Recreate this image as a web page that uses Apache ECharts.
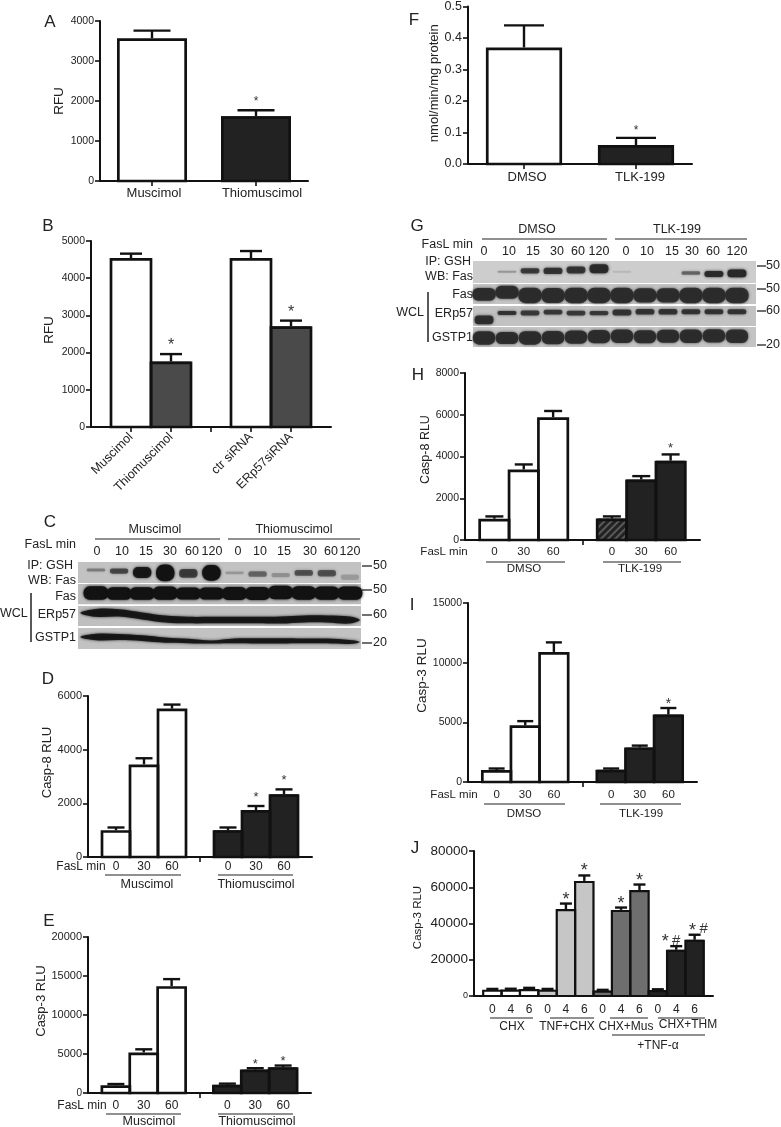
<!DOCTYPE html>
<html><head><meta charset="utf-8">
<style>html,body{margin:0;padding:0;background:#fff}#c{width:781px;height:1127px}</style>
<script src="https://cdn.jsdelivr.net/npm/echarts@6/dist/echarts.min.js"></script>
</head><body><div id="c"></div>
<script>
// ---------- Data ----------
const aCats=['Muscimol','Thiomuscimol'];
const aMeans=[3570,1620];
const aErrs=[3760,1770];
const aMarks=['','*'];

const bCats=['','Muscimol','Thiomuscimol','','ctr siRNA','ERp57siRNA',''];
const bMeans=[null,4540,1760,null,4540,2710,null];
const bErrs=[null,4660,1960,null,4730,2860,null];
const bMarks=['','','*','','','*',''];

const fasCats=['','0','30','60','','0','30','60',''];
const dMeans=[null,1000,3450,5530,null,1000,1750,2340,null];
const dErrs=[null,1100,3680,5680,null,1100,1900,2520,null];
const dMarks=['','','','','','','*','*',''];

const eMeans=[null,1000,5200,13700,null,1050,3000,3300,null];
const eErrs=[null,1150,5600,14600,null,1200,3180,3520,null];
const eMarks=['','','','','','','*','*',''];

const fCats=['DMSO','TLK-199'];
const fMeans=[0.37,0.06];
const fErrs=[0.44,0.083];
const fMarks=['','*'];

const hMeans=[null,1020,3380,5880,null,1030,2900,3800,null];
const hErrs=[null,1130,3620,6180,null,1130,3060,4100,null];
const hMarks=['','','','','','','','*',''];

const iMeans=[null,1000,4750,10900,null,1030,2900,5650,null];
const iErrs=[null,1130,5100,11700,null,1130,3050,6200,null];
const iMarks=['','','','','','','','*',''];

const jCats=['','0','4','6','0','4','6','0','4','6','0','4','6',''];
const jMeans=[null,3500,3600,3900,3500,48000,63500,3000,47500,58500,3300,25500,31000,null];
const jErrs=[null,3900,4000,4500,3900,51000,66500,3400,48800,61500,3700,27500,33800,null];
const jMarks=['','','','','','*','*','','*','*','','*','*',''];
const jHash=['','','','','','','','','','','','#','#',''];

// Blot band readings: one row per blot strip, one entry per lane
const cDark=[[.35,.6,.9,.97,.65,.97,.22,.45,.25,.55,.55,.2],
 [1,1,1,1,1,1,1,1,1,1,1,1],
 [.85,.85,.85,.85,.85,.85,.85,.85,.85,.85,.85,.85],
 [.85,.85,.85,.85,.85,.75,.85,.85,.85,.85,.85,.8]];
const cThick=[[.14,.24,.5,.78,.4,.72,.13,.26,.2,.26,.3,.25],
 [.62,.58,.58,.6,.55,.55,.6,.6,.62,.62,.6,.6],
 [.36,.34,.32,.32,.3,.3,.3,.3,.32,.32,.32,.32],
 [.3,.28,.26,.24,.2,.14,.22,.24,.24,.22,.22,.18]];
const cPos=[[.37,.42,.48,.5,.52,.5,.5,.55,.6,.5,.52,.7],
 [1.43,1.45,1.45,1.43,1.45,1.45,1.45,1.45,1.4,1.42,1.43,1.43],
 [2.34,2.34,2.48,2.62,2.67,2.67,2.67,2.67,2.67,2.62,2.62,2.67],
 [3.45,3.45,3.5,3.59,3.63,3.68,3.63,3.63,3.63,3.63,3.63,3.68]];
const gDark=[[0,.3,.8,.85,.85,.95,.12,0,0,.55,.95,1],
 [.9,.9,.9,.9,.9,.9,.9,.9,.9,.9,.9,.9],
 [.9,.85,.8,.8,.8,.8,.85,.85,.85,.85,.85,.85],
 [.9,.9,.9,.9,.9,.9,.9,.9,.9,.9,.9,.9]];
const gThick=[[0,.1,.24,.3,.32,.42,.1,0,0,.16,.28,.36],
 [.6,.6,.72,.7,.72,.72,.72,.66,.66,.72,.72,.72],
 [.4,.18,.24,.22,.22,.2,.28,.26,.26,.24,.24,.24],
 [.62,.56,.62,.62,.62,.62,.62,.6,.6,.62,.62,.62]];
const gPos=[[.5,.5,.46,.46,.42,.36,.5,.5,.5,.56,.6,.58],
 [1.55,1.45,1.6,1.6,1.6,1.6,1.6,1.6,1.6,1.6,1.6,1.6],
 [2.74,2.42,2.42,2.38,2.42,2.42,2.4,2.36,2.36,2.36,2.36,2.36],
 [3.58,3.58,3.58,3.56,3.54,3.52,3.5,3.52,3.5,3.5,3.48,3.5]];
const cLaneLabels=['0','10','15','30','60','120','0','10','15','30','60','120'];
const gLaneLabels=['0','10','15','30','60','120','0','10','15','30','60','120'];

// ---------- Builders ----------
const FONT='"Liberation Sans",Arial,sans-serif';
const grid=[],xAxis=[],yAxis=[],series=[],graphic=[];

function T(text,x,y,size,align,extra){
  graphic.push(Object.assign({type:'text',x:x,y:y,z:50,silent:true,
    style:{text:text,fontFamily:FONT,fontSize:size,fill:'#222',textAlign:align||'center',textVerticalAlign:'middle'}},extra||{}));
}
function L(x1,y1,x2,y2,w){
  graphic.push({type:'line',z:50,silent:true,shape:{x1:x1,y1:y1,x2:x2,y2:y2},style:{stroke:'#222',lineWidth:w||1.2}});
}

function addPanel(p){
  const i=grid.length;
  grid.push({left:p.x0,top:p.yTop,width:p.x1-p.x0,height:p.y0-p.yTop});
  const rich={};
  (p.nudge||[]).forEach((s,k)=>{rich['n'+k]={fontFamily:FONT,fontSize:p.xSize,color:'#222',padding:[0,0,0,2*s]};});
  xAxis.push({gridIndex:i,type:'category',data:p.cats,boundaryGap:!!p.gapTrue,
    axisLine:{show:true,lineStyle:{color:'#111',width:2}},
    axisTick:{show:!!p.ticks,length:5,alignWithLabel:true,lineStyle:{color:'#111',width:1.6},
      interval:p.ticks?((n)=>p.ticks.indexOf(n)>=0):0},
    axisLabel:{interval:0,hideOverlap:false,fontFamily:FONT,fontSize:p.xSize,color:'#222',margin:p.xMargin,rotate:p.rot||0,rich:rich,
      formatter:p.nudge?((v,n)=>'{n'+n+'|'+v+'}'):((v)=>v)},
    splitLine:{show:false}});
  const zr={z:{fontFamily:FONT,fontSize:p.zeroSize||p.ySize,color:'#222'}};
  yAxis.push({gridIndex:i,type:'value',min:0,max:p.yMax,interval:p.yStep,
    name:p.yName,nameLocation:'middle',nameGap:p.nameGap,nameRotate:90,
    nameTextStyle:{fontFamily:FONT,fontSize:p.nameSize,color:'#222',padding:[0,0,0,2*(p.nameUp||0)]},
    axisLine:{show:true,lineStyle:{color:'#111',width:2}},
    axisTick:{show:true,length:5,lineStyle:{color:'#111',width:1.6}},
    axisLabel:{fontFamily:FONT,fontSize:p.ySize,color:'#222',margin:p.yMargin||6,rich:zr,
      formatter:(v)=>(v===0&&p.zeroSize)?'{z|0}':(p.yFmt?p.yFmt(v):String(v))},
    splitLine:{show:false}});
  series.push({type:'bar',xAxisIndex:i,yAxisIndex:i,barWidth:p.barW,silent:true,z:3,
    data:p.means.map((v,k)=>v===null?'-':{value:v,itemStyle:Object.assign({color:p.fills[k]},
      (p.hatch&&p.hatch.indexOf(k)>=0)?{decal:{symbol:'rect',symbolSize:1,dashArrayX:[1,0],dashArrayY:[1.5,2.5],rotation:-Math.PI/4,color:'#5a5a5a'}}:{})})});
  const rows=[];p.errs.forEach((e,k)=>{if(e!==null)rows.push([k,e,p.means[k]]);});
  const bw=p.bw||2.7;
  series.push({type:'custom',xAxisIndex:i,yAxisIndex:i,silent:true,z:4,clip:false,data:rows,encode:{x:0,y:1},
    renderItem:(params,api)=>{
      const k=api.value(0),top=api.coord([k,api.value(1)]),base=api.coord([k,api.value(2)]),zero=api.coord([k,0]);
      const c=top[0],cap=p.capW/2,ls={stroke:'#111',lineWidth:p.ew||2.4};
      const kids=[
        {type:'rect',shape:{x:c-p.outW/2,y:base[1]+bw/2,width:p.outW,height:zero[1]-base[1]-bw/2},style:{fill:'none',stroke:'#111',lineWidth:bw}},
        {type:'line',shape:{x1:c,y1:top[1],x2:c,y2:base[1]},style:ls},
        {type:'line',shape:{x1:c-cap,y1:top[1],x2:c+cap,y2:top[1]},style:ls}];
      const m=p.marks[k];
      if(m)kids.push({type:'text',style:{text:m,x:c+((p.markDx||{})[k]||0),y:top[1]-p.markUp,fontFamily:FONT,fontSize:p.markSize,fill:'#333',textAlign:'center',textVerticalAlign:'top'}});
      if(p.hash&&p.hash[k])kids.push({type:'text',style:{text:p.hash[k],x:c+p.hashDx[k],y:top[1]-p.hashUp,fontFamily:FONT,fontSize:p.hashSize,fill:'#333',textAlign:'center',textVerticalAlign:'top'}});
      return {type:'group',children:kids};
    }});
}

function addBlot(b){
  const i=grid.length;
  grid.push({left:b.x0,top:b.y0,width:b.x1-b.x0,height:b.y1-b.y0});
  xAxis.push({gridIndex:i,type:'value',min:b.laneMin,max:b.laneMax,show:false});
  yAxis.push({gridIndex:i,type:'value',min:0,max:4,inverse:true,show:false});
  series.push({type:'custom',xAxisIndex:i,yAxisIndex:i,silent:true,z:1,clip:false,data:b.rows,encode:{x:0,y:1},
    renderItem:(params,api)=>{
      const a=api.coord([b.laneMin,api.value(0)]),c=api.coord([b.laneMax,api.value(1)]);
      return {type:'rect',shape:{x:a[0],y:a[1],width:c[0]-a[0],height:c[1]-a[1]},style:{fill:b.bg[params.dataIndex]}};
    }});
  const strips=b.strips||[];
  const bands=[];
  b.dark.forEach((row,r)=>{if(strips.indexOf(r)<0)row.forEach((d,l)=>{if(d>0)bands.push([l,b.pos[r][l],b.thick[r][l],d,b.wide[r]]);});});
  series.push({type:'custom',xAxisIndex:i,yAxisIndex:i,silent:true,z:2,clip:false,data:bands,encode:{x:0,y:1},
    renderItem:(params,api)=>{
      const ctr=api.coord([api.value(0),api.value(1)]),s=api.size([api.value(4),api.value(2)]);
      const col='rgba('+b.ink+','+api.value(3)+')';
      return {type:'rect',shape:{x:ctr[0]-s[0]/2,y:ctr[1]-s[1]/2,width:s[0],height:s[1],r:s[1]/2.2},
        style:{fill:col,shadowBlur:b.blur,shadowColor:col}};
    }});
  if(strips.length)series.push({type:'custom',xAxisIndex:i,yAxisIndex:i,silent:true,z:2,clip:false,data:strips.map(r=>[r,r]),encode:{x:0,y:1},
    renderItem:(params,api)=>{
      const r=api.value(0),P=b.pos[r],H=b.thick[r],up=[],dn=[];
      P.forEach((y,l)=>{up.push(api.coord([l,y-H[l]/2]));dn.unshift(api.coord([l,y+H[l]/2]));});
      const start=api.coord([b.laneMin+.1,P[0]]),end=api.coord([b.laneMax-.05,P[P.length-1]]);
      const col='rgba('+b.ink+',.9)';
      return {type:'polygon',shape:{points:[start].concat(up,[end],dn),smooth:.35},style:{fill:col,shadowBlur:b.blur,shadowColor:col}};
    }});
}

const W='#fff',K='#222',G='#4a4a4a';
// ---------- Panels ----------
addPanel({x0:100,x1:308,yTop:21,y0:181,yMax:4000,yStep:1000,cats:aCats,gapTrue:true,ticks:[0,1],means:aMeans,errs:aErrs,marks:aMarks,
  fills:[W,K],barW:70,outW:67.3,capW:37,xSize:13,xMargin:6,nudge:[2,6],ySize:10.5,yName:'RFU',nameGap:31,nameSize:13.5,markSize:12,markUp:15});
addPanel({x0:91,x1:331,yTop:241,y0:427,yMax:5000,yStep:1000,cats:bCats,ticks:[1,2,3,4,5],means:bMeans,errs:bErrs,marks:bMarks,
  fills:[W,W,G,W,W,G,W],barW:40,outW:40,capW:22,xSize:12.5,xMargin:8,rot:45,ySize:10.5,yName:'RFU',nameGap:35,nameSize:13.5,nameUp:4,markSize:16,markUp:16});
addPanel({x0:88,x1:312,yTop:696,y0:857,yMax:6000,yStep:2000,cats:fasCats,ticks:[4],means:dMeans,errs:dErrs,marks:dMarks,
  fills:[W,W,W,W,W,K,K,K,W],barW:28,outW:28,capW:17,xSize:12,xMargin:4,ySize:11,yName:'Casp-8 RLU',nameGap:33,nameSize:13,nameUp:14,markSize:13,markUp:15.5});
addPanel({x0:88,x1:311,yTop:937,y0:1093,yMax:20000,yStep:5000,cats:fasCats,ticks:[4],means:eMeans,errs:eErrs,marks:eMarks,
  fills:[W,W,W,W,W,K,K,K,W],barW:28,outW:28,capW:17,xSize:12,xMargin:7,ySize:11,zeroSize:10,yName:'Casp-3 RLU',nameGap:38,nameSize:13,nameUp:14,markSize:13,markUp:10.5});
addPanel({x0:468,x1:692,yTop:5,y0:164,yMax:0.5,yStep:0.1,cats:fCats,gapTrue:true,ticks:[0,1],means:fMeans,errs:fErrs,marks:fMarks,
  fills:[W,K],barW:76,outW:73.5,capW:40,xSize:13,xMargin:7,nudge:[3,4],ySize:12.5,yFmt:(v)=>v.toFixed(1),yName:'nmol/min/mg protein',nameGap:24,nameSize:13,nameUp:2,markSize:12,markUp:13});
addPanel({x0:465,x1:700,yTop:373,y0:540,yMax:8000,yStep:2000,cats:fasCats,ticks:[4],means:hMeans,errs:hErrs,marks:hMarks,
  fills:[W,W,W,W,W,K,K,K,W],hatch:[5],barW:29.4,outW:29.4,capW:18,xSize:11.5,xMargin:6,ySize:10.5,yName:'Casp-8 RLU',nameGap:32,nameSize:12.5,nameUp:7,markSize:13,markUp:12.5});
addPanel({x0:468,x1:697,yTop:603,y0:782,yMax:15000,yStep:5000,cats:fasCats,ticks:[4],means:iMeans,errs:iErrs,marks:iMarks,
  fills:[W,W,W,W,W,K,K,K,W],barW:28.6,outW:28.6,capW:16,xSize:11.5,xMargin:7,ySize:10.5,yName:'Casp-3 RLU',nameGap:37,nameSize:13.5,nameUp:17,markSize:14,markUp:11});
addPanel({x0:474,x1:713,yTop:851,y0:996,yMax:80000,yStep:20000,cats:jCats,means:jMeans,errs:jErrs,marks:jMarks,hash:jHash,
  markDx:{11:-11,12:-2},hashDx:{11:0,12:9},hashUp:13,hashSize:15,
  fills:[W,W,W,W,'#c6c6c6','#c6c6c6','#c6c6c6','#6e6e6e','#6e6e6e','#6e6e6e',K,K,K,W],barW:18.36,outW:18.36,capW:12,xSize:12,xMargin:8,ySize:13.5,zeroSize:9,yName:'Casp-3 RLU',nameGap:50,nameSize:11.5,nameUp:6,markSize:18,markUp:13,bw:2.2});

// ---------- Western blots ----------
addBlot({x0:78,x1:361,y0:562,y1:649,laneMin:-0.78,laneMax:11.48,rows:[[0,.97],[1.01,1.94],[2.02,2.94],[3.04,4]],
  bg:['#c2c2c2','#bdbdbd','#bfbfbf','#c2c2c2'],dark:cDark,thick:cThick,pos:cPos,wide:[.8,1.08,1.06,1.06],strips:[2,3],ink:'18,18,18',blur:3});
addBlot({x0:473,x1:756,y0:261,y1:347,laneMin:-0.48,laneMax:11.83,rows:[[0,1.02],[1.07,2],[2.09,3.02],[3.07,4]],
  bg:['#cdcdcd','#c4c4c4','#c2c2c2','#c4c4c4'],dark:gDark,thick:gThick,pos:gPos,wide:[.82,1.02,.82,.98],ink:'40,40,40',blur:3});

// ---------- Letters ----------
[['A',50,22],['B',48,226],['C',50,522],['D',48,679],['E',49,921],['F',414,20],['G',417,226],['H',418,375],['I',412,605],['J',415,848]]
  .forEach(a=>T(a[0],a[1],a[2],17));

// ---------- Blot C text ----------
T('Muscimol',155,530,12.5);L(95,539,220,539);
T('Thiomuscimol',294,530,12.5);L(228,539,360,539);
T('FasL min',76,545,12.5,'right');
[97,122,146,170,192,212,238,260,284,310,331,350].forEach((x,n)=>T(cLaneLabels[n],x,552,12.5));
T('IP: GSH',73,566,12.5,'right');T('WB: Fas',76,581,12.5,'right');T('Fas',76,597,12.5,'right');T('ERp57',76,615,12.5,'right');T('GSTP1',76,638,12.5,'right');
T('WCL',0,614,12.5,'left');L(31,593,31,642,1.5);
[[566,'50'],[590,'50'],[615,'60'],[643,'20']].forEach(a=>{L(362,a[0],372,a[0],1.3);T(a[1],373,a[0],12.5,'left');});

// ---------- Blot G text ----------
T('DMSO',537,230,12.5);L(482,239,607,239);
T('TLK-199',677,230,12.5);L(615,239,747,239);
T('FasL min',473,245,12.5,'right');
[484,509,533,557,578,599,626,647,672,692,713,737].forEach((x,n)=>T(gLaneLabels[n],x,252,12.5));
T('IP: GSH',471,262,12.5,'right');T('WB: Fas',473,277,12.5,'right');T('Fas',473,295,12.5,'right');T('ERp57',473,314,12.5,'right');T('GSTP1',473,338,12.5,'right');
T('WCL',424,313,12.5,'right');L(428,292,428,342,1.5);
[[266,'50'],[289,'50'],[311,'60'],[345,'20']].forEach(a=>{L(757,a[0],766,a[0],1.3);T(a[1],766,a[0],12.5,'left');});

// ---------- Group labels under the bars ----------
T('FasL min',81,867,12);L(105,875,181,875);L(218,875,293,875);T('Muscimol',147,885,12.5);T('Thiomuscimol',256,885,12.5);
T('FasL min',82,1106,12);L(106,1114,181,1114);L(218,1114,293,1114);T('Muscimol',149,1122,12.5);T('Thiomuscimol',257,1122,12.5);
T('FasL min',444,552,11.5);L(486,562,565,562);L(603,562,681,562);T('DMSO',524,569,11.5);T('TLK-199',640,569,11.5);
T('FasL min',454,795,11.5);L(484,804,565,804);L(600,804,681,804);T('DMSO',524,814,11.5);T('TLK-199',641,814,11.5);
L(490,1018,533,1018);L(550,1018,594,1018);L(610,1018,648,1018);L(658,1018,705,1018);L(612,1035,705,1035);
T('CHX',512,1027,12);T('TNF+CHX',567,1027,12);T('CHX+Mus',626,1027,12);T('CHX+THM',688,1025,12);T('+TNF-α',658,1046,12);

const chart=echarts.init(document.getElementById('c'),null,{renderer:'canvas'});
chart.setOption({animation:false,backgroundColor:'#fff',grid:grid,xAxis:xAxis,yAxis:yAxis,series:series,graphic:{elements:graphic}});
</script></body></html>
